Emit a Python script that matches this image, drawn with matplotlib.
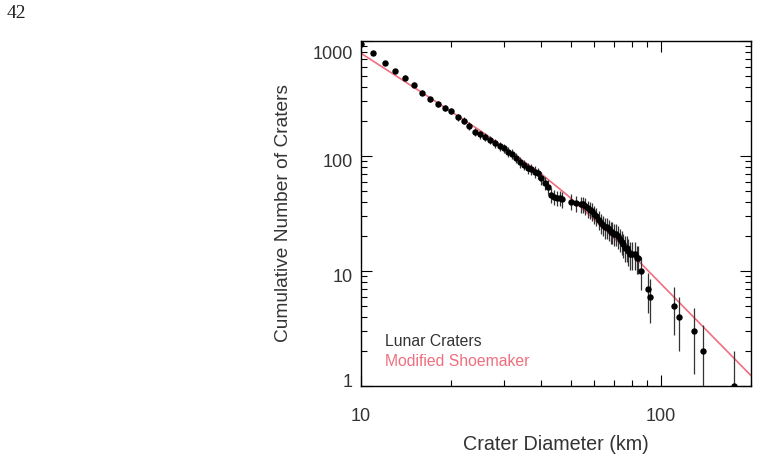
import numpy as np
import matplotlib
matplotlib.use("Agg")
import matplotlib.pyplot as plt
from matplotlib.transforms import ScaledTranslation

plt.rcParams['font.family'] = ['Liberation Sans', 'DejaVu Sans']

# Lunar crater cumulative counts (diameter km, N >= D)
diam = [10, 11, 12, 13, 14, 15, 16, 17, 18, 19, 20, 21, 22, 23, 24, 25, 26, 27, 28, 29,
        30, 31, 32, 33, 34, 35, 36, 37, 38, 39, 40, 41, 42, 43, 44, 45, 46, 47, 50, 52,
        54, 55, 56, 57, 58, 59, 60, 61, 62, 63, 64, 65, 66, 67, 68, 69, 70, 71, 72, 73,
        74, 75, 76, 77, 78, 79, 80, 82, 83, 84, 86, 91, 92, 111, 115, 129, 138, 175]
count = [940, 782, 648, 552, 480, 417, 355, 311, 282, 260, 248, 218, 203, 183, 163, 154, 146, 138, 129, 122,
         117, 109, 104, 96, 88, 84, 78, 77, 73, 71, 64, 58, 54, 46, 44, 43, 43, 42, 40, 39,
         38, 38, 37, 35, 34, 33, 31, 30, 28, 26, 25, 24, 24, 23, 22, 22, 21, 21, 20, 19,
         18, 17, 16, 16, 15, 14, 14, 14, 13, 13, 10, 7, 6, 5, 4, 3, 2, 1]

# Modified Shoemaker curve
model_d = [10, 16, 25, 39.7, 48.7, 58.3, 85.7, 110.9, 202]
model_n = [782, 355, 166, 70.7, 45.8, 30.1, 11.7, 5.9, 1.2]

xticks = [10, 100]
xticklabels = ['10', '100']
yticks = [1, 10, 100, 1000]
yticklabels = ['1', '10', '100', '1000']

red = '#ef6f7f'
txt = '#333333'

fig = plt.figure(figsize=(7.58, 4.61), dpi=100)
ax = fig.add_axes([361/758, 1-386/461, 390/758, 345/461])
ax.set_xscale('log')
ax.set_yscale('log')
ax.set_xlim(10, 200)
ax.set_ylim(1, 1000)

ax.plot(model_d, model_n, color=red, lw=1.2, zorder=2)
cnt = np.array(count, dtype=float)
ax.errorbar(diam, cnt, yerr=np.sqrt(cnt), fmt='o', color='black', ms=3.6,
            ecolor='#333333', elinewidth=0.9, capsize=0, zorder=3)

ax.set_xticks(xticks)
ax.set_xticklabels(xticklabels)
ax.set_yticks(yticks)
ax.set_yticklabels(yticklabels)
ax.tick_params(which='both', direction='in', top=True, right=True, width=0.8, colors='black',
               labelcolor=txt)
ax.tick_params(which='major', length=8, labelsize=13)
ax.tick_params(axis='x', which='major', pad=15.5)
ax.tick_params(axis='y', which='major', pad=6)
ax.tick_params(which='minor', length=4)
for s in ax.spines.values():
    s.set_linewidth(1.0)
    s.set_color('black')

# IDL-like label nudges
offs = {0: 4/72, 1: -3/72, 2: -3/72, 3: -8/72}
for i, lab in enumerate(ax.get_yticklabels()):
    lab.set_transform(lab.get_transform() + ScaledTranslation(0, offs[i], fig.dpi_scale_trans))

ax.set_xlabel('Crater Diameter (km)', fontsize=14.2, color=txt)
ax.xaxis.set_label_coords(0.5, -0.142)
ax.set_ylabel('Cumulative Number of Craters', fontsize=13.8, color=txt)
ax.yaxis.set_label_coords(-0.178, 0.5)

ax.text(0.0615, 0.128, 'Lunar Craters', transform=ax.transAxes, fontsize=11.3,
        color=txt, ha='left', va='center')
ax.text(0.0615, 0.0704, 'Modified Shoemaker', transform=ax.transAxes, fontsize=11.3,
        color=red, ha='left', va='center')

fig.text(7/758, 1-13.5/461, '42', family=['Liberation Serif', 'DejaVu Serif'], fontsize=14,
         color='#222222', ha='left', va='center')

fig.savefig('out.png', dpi=100)
